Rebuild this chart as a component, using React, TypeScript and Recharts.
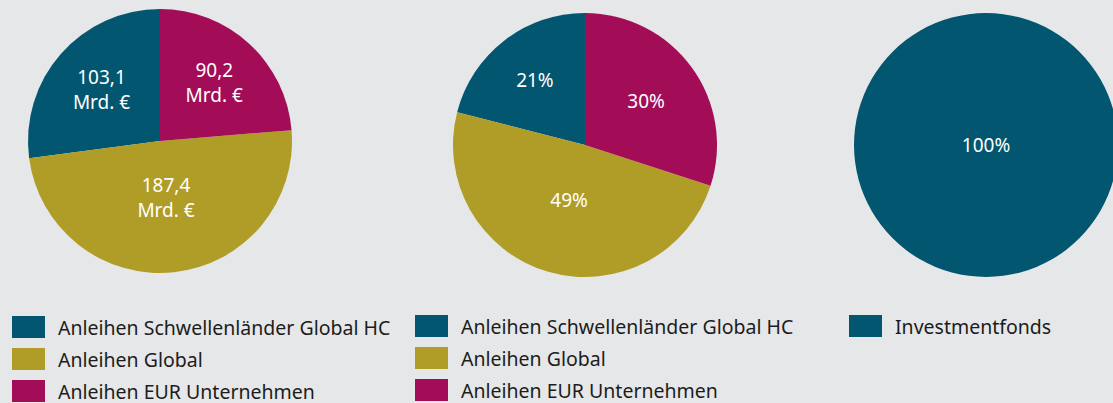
import * as React from "react";
import { PieChart, Pie, Cell, Legend } from "recharts";

const categories = [
  "Anleihen Schwellenländer Global HC",
  "Anleihen Global",
  "Anleihen EUR Unternehmen",
];
const volumes = [103.1, 187.4, 90.2]; // Mrd. €
const shares = [21, 49, 30]; // %
const fundTypes = ["Investmentfonds"];
const fundShares = [100];

const colors = ["#02566f", "#b09d27", "#a30d58"];
const BG = "#e6e7e9";
const FONT = "'Noto Sans', 'Open Sans', sans-serif";
const RAD = Math.PI / 180;

const volumeData = categories.map((name, i) => ({ name, value: volumes[i] }));
const shareData = categories.map((name, i) => ({ name, value: shares[i] }));
const fundData = fundTypes.map((name, i) => ({ name, value: fundShares[i] }));

const fmtDe = (v: number) =>
  v.toLocaleString("de-DE", { minimumFractionDigits: 1, maximumFractionDigits: 1 });

// labels sit on the area centroid of each slice
function makeLabel(lines: (v: number) => string[]) {
  return (props: any) => {
    const { cx, cy, midAngle, outerRadius, percent, value } = props;
    let x = cx;
    let y = cy;
    if (percent < 0.999) {
      const theta = percent * 2 * Math.PI;
      const r = (4 * outerRadius * Math.sin(theta / 2)) / (3 * theta);
      x = cx + r * Math.cos(-midAngle * RAD);
      y = cy + r * Math.sin(-midAngle * RAD);
    }
    const ls = lines(value);
    const lh = 25;
    const top = y - ((ls.length - 1) * lh) / 2;
    return (
      <text
        x={x}
        y={top}
        fill="#ffffff"
        fontSize={19}
        fontFamily={FONT}
        textAnchor="middle"
        dominantBaseline="central"
      >
        {ls.map((l, i) => (
          <tspan key={i} x={x} y={top + i * lh}>
            {l}
          </tspan>
        ))}
      </text>
    );
  };
}

const BoxLegend = ({ payload, names }: any) => {
  const items = [...(payload || [])].sort(
    (a: any, b: any) => names.indexOf(a.value) - names.indexOf(b.value)
  );
  return (
    <div style={{ fontFamily: FONT }}>
      {items.map((p: any, i: number) => (
        <div key={i} style={{ display: "flex", alignItems: "center", height: 32 }}>
          <span
            style={{
              display: "inline-block",
              width: 33,
              height: 22,
              background: colors[names.indexOf(p.value)],
              marginRight: 13,
            }}
          />
          <span style={{ fontSize: 19.5, color: "#1c1c1c", whiteSpace: "nowrap" }}>{p.value}</span>
        </div>
      ))}
    </div>
  );
};

type PanelProps = {
  data: Array<{ name: string; value: number }>;
  left: number;
  width: number;
  cx: number;
  cy: number;
  legendLeft: number;
  legendTop: number;
  lines: (v: number) => string[];
};

function Panel({ data, left, width, cx, cy, legendLeft, legendTop, lines }: PanelProps) {
  const names = data.map((d) => d.name);
  return (
    <div style={{ position: "absolute", left, top: 0, width, height: 403 }}>
      <PieChart width={width} height={403} margin={{ top: 0, right: 0, bottom: 0, left: 0 }}>
        <Pie
          data={data}
          dataKey="value"
          nameKey="name"
          cx={cx}
          cy={cy}
          outerRadius={132}
          startAngle={90}
          endAngle={450}
          stroke="none"
          labelLine={false}
          label={makeLabel(lines)}
          isAnimationActive={false}
        >
          {data.map((_, i) => (
            <Cell key={i} fill={colors[i]} />
          ))}
        </Pie>
        <Legend
          layout="vertical"
          align="center"
          verticalAlign="middle"
          content={<BoxLegend names={names} />}
          wrapperStyle={{ left: legendLeft, top: legendTop - 5, width: "auto" }}
        />
      </PieChart>
    </div>
  );
}

export default function App() {
  return (
    <div
      style={{
        position: "fixed",
        left: 0,
        top: 0,
        width: 1113,
        height: 403,
        background: BG,
        overflow: "hidden",
      }}
    >
      <Panel
        data={volumeData}
        left={0}
        width={400}
        cx={160}
        cy={141}
        legendLeft={12}
        legendTop={316}
        lines={(v) => [fmtDe(v), "Mrd. €"]}
      />
      <Panel
        data={shareData}
        left={400}
        width={420}
        cx={185}
        cy={145}
        legendLeft={15}
        legendTop={315}
        lines={(v) => [`${v}%`]}
      />
      <Panel
        data={fundData}
        left={800}
        width={313}
        cx={186}
        cy={145}
        legendLeft={49}
        legendTop={315}
        lines={(v) => [`${v}%`]}
      />
    </div>
  );
}
